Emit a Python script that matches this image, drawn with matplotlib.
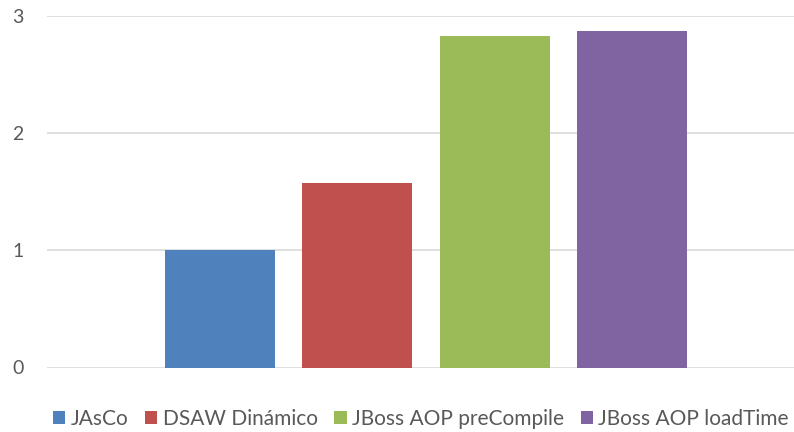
import matplotlib
matplotlib.use('Agg')
import matplotlib.pyplot as plt
from matplotlib.patches import Patch

# data
series  = ['JAsCo', 'DSAW Dinámico', 'JBoss AOP preCompile', 'JBoss AOP loadTime']
values  = [1.0, 1.575, 2.83, 2.87]
colors  = ['#4F81BD', '#C0504D', '#9BBB59', '#8064A2']
yticks  = [0, 1, 2, 3]

plt.rcParams['font.family'] = ['Lato', 'DejaVu Sans']

fig = plt.figure(figsize=(7.94, 4.32), dpi=100)
ax = fig.add_axes([47/794, 1 - 367.5/432, 1 - 47/794, (367.5 - 16)/432])

x = list(range(len(series)))
ax.bar(x, values, width=0.8, color=colors, zorder=3)

ax.set_xlim(-1.258, 4.175)
ax.set_ylim(0, 3)
ax.set_yticks(yticks)
ax.set_xticks([])
ax.yaxis.grid(True, color='#D9D9D9', lw=1.2, zorder=0)
for s in ax.spines.values():
    s.set_visible(False)
ax.tick_params(axis='y', length=0, pad=17, labelsize=14, labelcolor='#595959')

handles = [Patch(facecolor=c, edgecolor='none') for c in colors]
fig.legend(handles, series, loc='center', bbox_to_anchor=(0.53, 0.03), ncol=4,
           frameon=False, fontsize=15, labelcolor='#595959',
           handlelength=0.6, handleheight=0.6, handletextpad=0.25, columnspacing=0.8)

fig.savefig('out.png', dpi=100)
